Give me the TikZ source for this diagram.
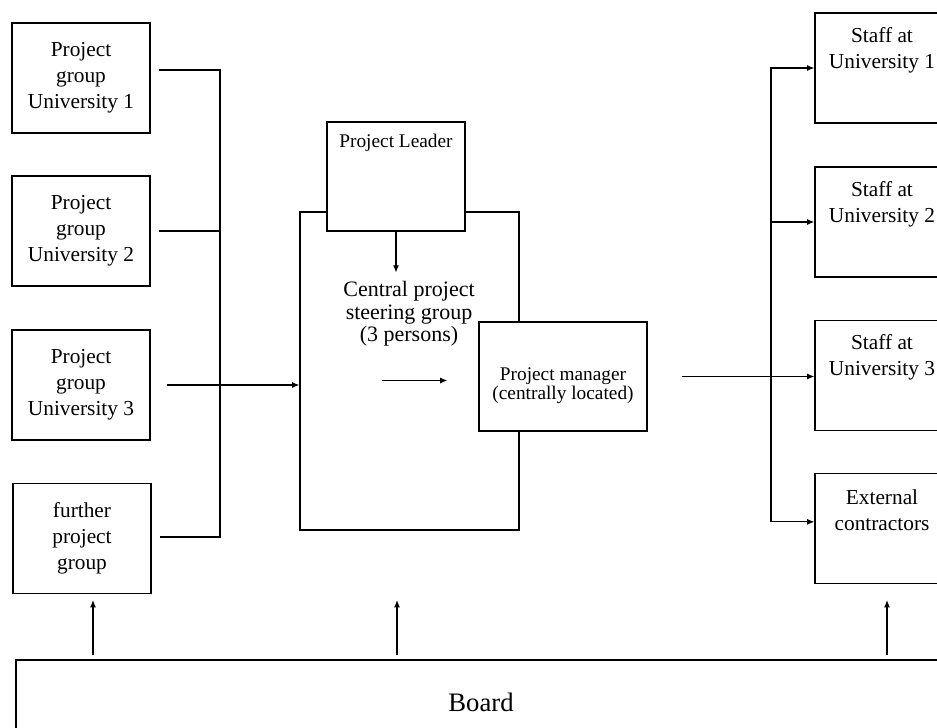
\documentclass[tikz,border=0pt]{standalone}
\usepackage{fontspec}
\setmainfont{Liberation Serif}
\usetikzlibrary{arrows.meta, positioning}

\begin{document}
\begin{tikzpicture}[x=0.75pt, y=-0.75pt,
    box/.style={draw, line width=0.9pt, fill=white, inner sep=0pt},
    grpbox/.style={box, minimum width=103.5pt, minimum height=82.5pt, align=center, font=\fontsize{16}{19.5}\selectfont},
    staffbox/.style={box, minimum width=100.5pt, minimum height=82.5pt},
    bigtxt/.style={align=center, inner sep=0pt, font=\fontsize{16}{19.5}\selectfont},
    smalltxt/.style={align=center, inner sep=0pt, font=\fontsize{14.5}{14.5}\selectfont},
    wire/.style={line width=0.9pt},
    arr/.style={wire, -{Latex[length=5.5pt, width=4.5pt]}}]
    \useasboundingbox (0,0) rectangle (937,727);
    \clip (0,0) rectangle (937,727);

    % Project groups
    \node[grpbox] (p1) at (81,78) {Project\\group\\University 1};
    \node[grpbox] (p2) at (81,231) {Project\\group\\University 2};
    \node[grpbox] (p3) at (81,385) {Project\\group\\University 3};
    \node[grpbox] (p4) at (82,538.5) {further\\project\\group};

    % Steering group with leader and manager
    \node[box, minimum width=164.25pt, minimum height=238.5pt] (steer) at (409.5,371) {};
    \node[box, minimum width=103.5pt, minimum height=81.75pt] (lead) at (396,176.5) {};
    \node[smalltxt] (leadtxt) at (396,143) {Project Leader};
    \node[box, minimum width=126pt, minimum height=81.75pt] (mgr) at (563,376.5) {};
    \node[smalltxt] (mgrtxt) at (563,386) {Project manager\\(centrally located)};
    \node[align=center, inner sep=0pt, font=\fontsize{16.5}{17}\selectfont] (ctext) at (409,314) {Central project\\steering group\\(3 persons)};

    % Staff
    \node[staffbox] (s1) at (882,68) {};
    \node[staffbox] (s2) at (882,222) {};
    \node[staffbox] (s3) at (882,375.5) {};
    \node[staffbox] (s4) at (882,528.5) {};
    \node[bigtxt] (s1txt) at ([yshift=13.5pt]s1) {Staff at\\University 1};
    \node[bigtxt] (s2txt) at ([yshift=13.5pt]s2) {Staff at\\University 2};
    \node[bigtxt] (s3txt) at ([yshift=13.5pt]s3) {Staff at\\University 3};
    \node[bigtxt] (s4txt) at ([yshift=13.5pt]s4) {External\\contractors};

    % Board
    \node[box, minimum width=708pt, minimum height=75pt] (board) at (488,710) {};
    \node[inner sep=0pt, font=\fontsize{20}{24}\selectfont] (boardtxt) at (481,702) {Board};

    % Groups to steering group
    \coordinate (busL) at (220,384);
    \draw[wire] ([shift={(8,-8)}]p1.east) -| (busL);
    \draw[wire] ([xshift=6pt]p2.east) -- (p2.east -| busL);
    \draw[wire] ([shift={(8,-1.5)}]p4.east) -| (busL);
    \draw[arr] ([xshift=12pt]p3.east) -- (p3.east -| steer.west);

    % Inside the steering group
    \draw[arr] (lead.south) -- ++(0,41);
    \draw[arr] ([shift={(-96,4)}]mgr.west) -- ([shift={(-31,4)}]mgr.west);

    % Manager to staff
    \coordinate (busR) at (771,374);
    \draw[arr] ([xshift=26pt]mgr.east) -- (mgr.east -| s3.west);
    \draw[arr] (busR) |- (s1.west);
    \draw[arr] (busR) |- (s2.west);
    \draw[arr] (busR) |- ([yshift=5pt]s4.west);

    % Board upwards
    \foreach \i/\x in {1/93, 2/397, 3/887} {
        \coordinate (up\i) at (\x,655);
        \coordinate (tip\i) at (\x,600);
        \draw[arr] (up\i) -- (tip\i);
    }
\end{tikzpicture}
\end{document}
